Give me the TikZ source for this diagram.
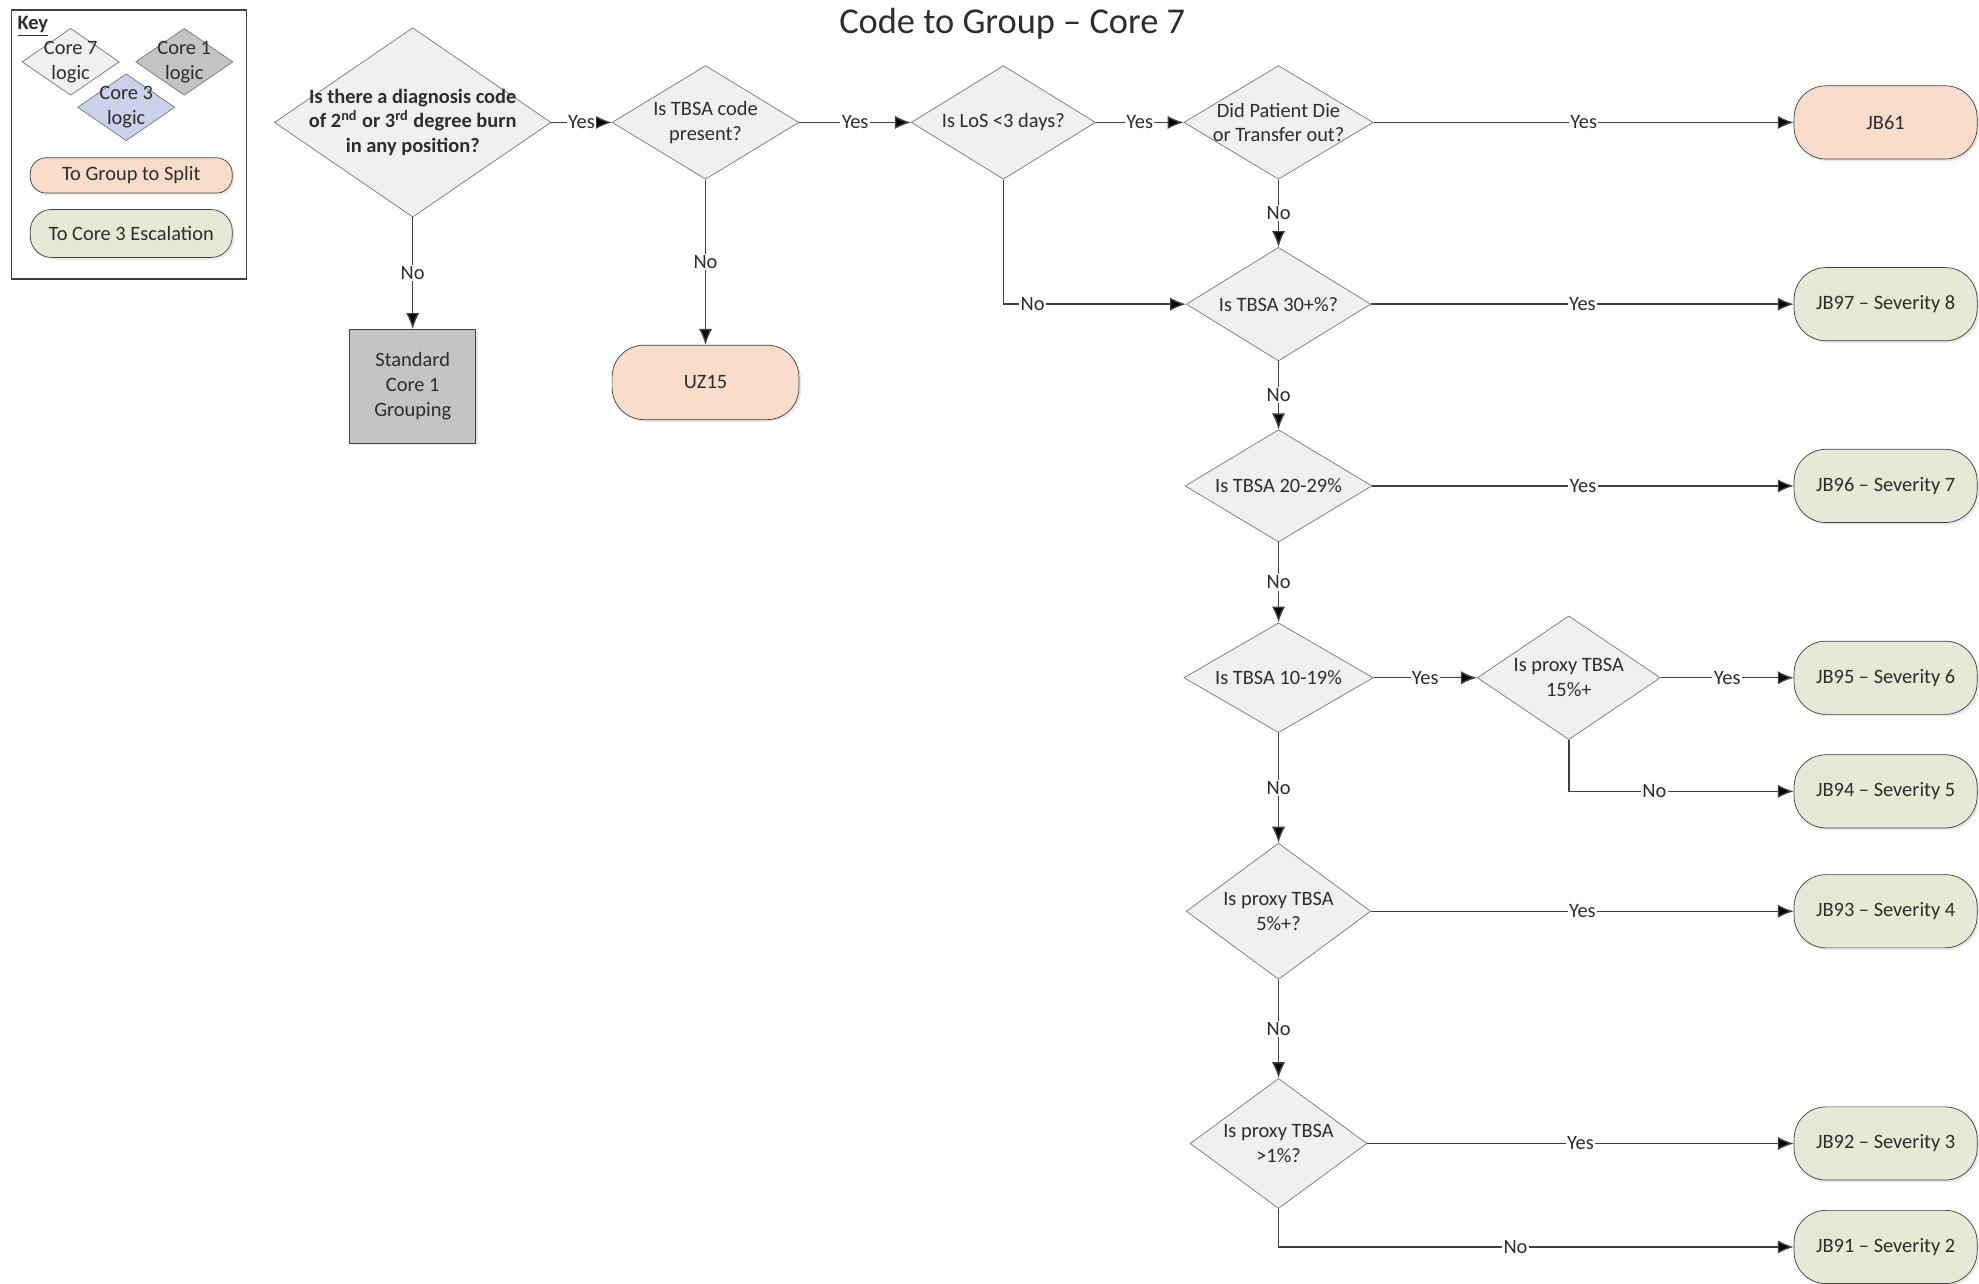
\documentclass[tikz,border=0pt]{standalone}
\usepackage{fontspec}
\setmainfont{Carlito}
\usetikzlibrary{arrows.meta,shapes.geometric,shadows}
\definecolor{linegray}{RGB}{64,64,64}
\definecolor{textgray}{RGB}{45,45,45}
\definecolor{diamondline}{RGB}{120,120,120}
\definecolor{diamondfill}{RGB}{240,240,240}
\definecolor{core1fill}{RGB}{196,196,196}
\definecolor{core3fill}{RGB}{204,210,236}
\definecolor{splitfill}{RGB}{249,221,202}
\definecolor{escfill}{RGB}{229,233,213}
\tikzset{
  >={Latex[length=9pt,width=7.5pt]},
  decision/.style 2 args ={diamond, draw=diamondline, fill=diamondfill,
                  inner sep=-6pt, /utils/exec={\pgfmathsetmacro\dasp{#1/#2}},
                  aspect/.expand once=\dasp, minimum width=#1cm, minimum height=#2cm,
                  align=center, text=textgray},
  keydiamond/.style ={decision={1.925}{1.325}},
  pill/.style ={rectangle, rounded corners=18pt, draw=linegray, fill=#1,
                  minimum width=3.625cm, minimum height=1.45cm, text=textgray,
                  drop shadow={opacity=0.18, shadow xshift=1.2pt, shadow yshift=-1.2pt}},
  pill/.default = escfill,
  grouping/.style ={rectangle, draw=linegray, fill=core1fill, align=center,
                  minimum width=2.5cm, minimum height=2.25cm, text=textgray,
                  drop shadow={opacity=0.18, shadow xshift=1.2pt, shadow yshift=-1.2pt}},
  flow/.style ={draw=linegray, line width=0.8pt, ->},
  elbow/.style ={to path={|- (\tikztotarget) \tikztonodes}},
  yesno/.style ={fill=white, inner sep=0.8pt, text=textgray},
}

\begin{document}
\begin{tikzpicture}[x=0.025cm, y=-0.025cm, font=\fontsize{11.5}{14}\selectfont]
\useasboundingbox (0,0) rectangle (1568,1017);
\node[text=textgray, font=\fontsize{20.5}{24}\selectfont] (title) at (802,19) {Code to Group \textendash{} Core 7};

% key
\node[draw=linegray, line width=0.7pt, minimum width=4.65cm, minimum height=5.325cm] (keybox) at (102,114.5) {};
\node[text=textgray, font=\fontsize{11.5}{14}\selectfont\bfseries, inner sep=0pt] (keytitle) at (26,21) {\underline{Key}};
\node[keydiamond] (k7) at (56,49) {Core 7\\logic};
\node[keydiamond, fill=core1fill] (k1) at (146,49) {Core 1\\logic};
\node[keydiamond, fill=core3fill] (k3) at (100,85) {Core 3\\logic};
\node[pill=splitfill, minimum width=4cm, minimum height=0.7cm, rounded corners=9pt] (ksplit) at (104,139) {To Group to Split};
\node[pill=escfill, minimum width=4cm, minimum height=0.95cm, rounded corners=12pt] (kesc) at (104,185) {To Core 3 Escalation};

% decisions
\node[decision={5.475}{3.75}, inner sep=-8pt, font=\fontsize{11.5}{14}\selectfont\bfseries] (d1) at (327,97)
  {Is there a diagnosis code\\of 2\textsuperscript{nd} or 3\textsuperscript{rd} degree burn\\in any position?};
\node[decision={3.7}{2.25}] (d2) at (559,97) {Is TBSA code\\present?};
\node[decision={3.65}{2.25}] (d3) at (795,97) {Is LoS <3 days?};
\node[decision={3.75}{2.25}] (d4) at (1013,97) {Did Patient Die\\or Transfer out?};
\node[decision={3.65}{2.25}] (d5) at (1013,241) {Is TBSA 30+\%?};
\node[decision={3.7}{2.225}] (d6) at (1013,385) {Is TBSA 20-29\%};
\node[decision={3.75}{2.175}] (d7) at (1013,537) {Is TBSA 10-19\%};
\node[decision={3.625}{2.45}] (d8) at (1243,537) {Is proxy TBSA\\15\%+};
\node[decision={3.65}{2.7}] (d9) at (1013,722) {Is proxy TBSA\\5\%+?};
\node[decision={3.5}{2.575}] (d10) at (1013,906) {Is proxy TBSA\\>1\%?};

% outcomes
\node[grouping] (std) at (327,306) {Standard\\Core 1\\Grouping};
\node[pill=splitfill, minimum width=3.7cm, minimum height=1.475cm] (uz15) at (559,303) {UZ15};
\node[pill=splitfill] (jb61) at (1494,97) {JB61};
\node[pill] (jb97) at (1494,241) {JB97 \textendash{} Severity 8};
\node[pill] (jb96) at (1494,385) {JB96 \textendash{} Severity 7};
\node[pill] (jb95) at (1494,537) {JB95 \textendash{} Severity 6};
\node[pill] (jb94) at (1494,627) {JB94 \textendash{} Severity 5};
\node[pill] (jb93) at (1494,722) {JB93 \textendash{} Severity 4};
\node[pill] (jb92) at (1494,906) {JB92 \textendash{} Severity 3};
\node[pill] (jb91) at (1494,988) {JB91 \textendash{} Severity 2};

\path[flow] (d1) edge node[yesno] {Yes} (d2)
                 edge node[yesno] {No} (std)
            (d2) edge node[yesno] {Yes} (d3)
                 edge node[yesno] {No} (uz15)
            (d3) edge node[yesno] {Yes} (d4)
                 edge[elbow] node[yesno, pos=0.58] {No} (d5)
            (d4) edge node[yesno] {Yes} (jb61)
                 edge node[yesno] {No} (d5)
            (d5) edge node[yesno] {Yes} (jb97)
                 edge node[yesno] {No} (d6)
            (d6) edge node[yesno] {Yes} (jb96)
                 edge node[yesno] {No} (d7)
            (d7) edge node[yesno] {Yes} (d8)
                 edge node[yesno] {No} (d9)
            (d8) edge node[yesno] {Yes} (jb95)
                 edge[elbow] node[yesno, pos=0.69] {No} (jb94)
            (d9) edge node[yesno] {Yes} (jb93)
                 edge node[yesno] {No} (d10)
            (d10) edge node[yesno] {Yes} (jb92)
                  edge[elbow] node[yesno, pos=0.73] {No} (jb91);
\end{tikzpicture}
\end{document}
